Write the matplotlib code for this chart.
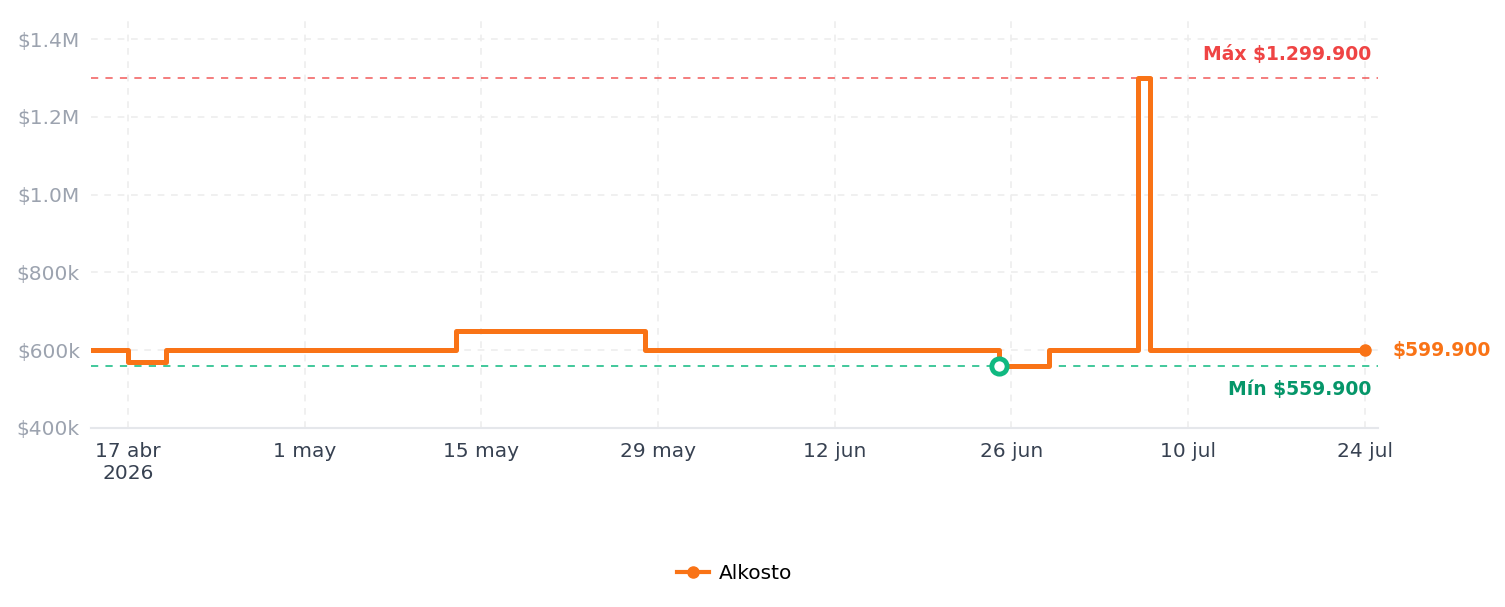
import matplotlib
matplotlib.use("Agg")
import matplotlib.pyplot as plt
from matplotlib.ticker import FuncFormatter
from matplotlib.lines import Line2D
from datetime import datetime

plt.rcParams["font.family"] = ["DejaVu Sans"]

# datos del historial de precios (escalones)
fechas = [
    "2026-04-14", "2026-04-17", "2026-04-20", "2026-05-13", "2026-05-28",
    "2026-06-25", "2026-06-29", "2026-07-06", "2026-07-07", "2026-07-24",
]
precios = [
    599900, 569900, 599900, 649900, 599900,
    559900, 599900, 1299900, 599900, 599900,
]
tienda = "Alkosto"
ticks_fechas = ["2026-04-17", "2026-05-01", "2026-05-15", "2026-05-29",
                "2026-06-12", "2026-06-26", "2026-07-10", "2026-07-24"]
ticks_etiquetas = ["17 abr\n2026", "1 may", "15 may", "29 may",
                   "12 jun", "26 jun", "10 jul", "24 jul"]
ticks_precios = [400000, 600000, 800000, 1000000, 1200000, 1400000]

fechas_dt = [datetime.strptime(f, "%Y-%m-%d") for f in fechas]
precio_max = max(precios)
precio_min = min(precios)
fecha_min = fechas_dt[precios.index(precio_min)]


def formato_precio(v, pos=None):
    if v >= 1000000:
        return f"${v / 1000000:.1f}M"
    return f"${v / 1000:.0f}k"


def miles(v):
    return "$" + f"{v:,.0f}".replace(",", ".")


NARANJA = "#f97316"
VERDE = "#10b981"
ROJO = "#ef4444"

fig = plt.figure(figsize=(15.05, 6.07), dpi=100)
ax = fig.add_axes([0.0605, 0.2949, 0.8551, 0.6804])

ax.step(fechas_dt, precios, where="post", color=NARANJA, linewidth=3.6,
        solid_joinstyle="round", solid_capstyle="round", zorder=4)

# punto final y etiqueta del precio actual
ax.plot(fechas_dt[-1], precios[-1], "o", color=NARANJA, markersize=8, zorder=5)
ax.annotate(miles(precios[-1]), (fechas_dt[-1], precios[-1]),
            xytext=(20, 0), textcoords="offset points", va="center",
            ha="left", color=NARANJA, fontsize=13.5, fontweight="bold",
            annotation_clip=False)

# líneas de máximo y mínimo
ax.axhline(precio_max, color=ROJO, alpha=0.75, linestyle=(0, (4, 4)),
           linewidth=1.3, zorder=2)
ax.axhline(precio_min, color=VERDE, alpha=0.85, linestyle=(0, (4, 4)),
           linewidth=1.3, zorder=2)
ax.annotate("Máx " + miles(precio_max), (0.9945, precio_max),
            xycoords=ax.get_yaxis_transform(), xytext=(0, 10),
            textcoords="offset points", ha="right", va="bottom",
            color=ROJO, fontsize=13.5, fontweight="bold")
ax.annotate("Mín " + miles(precio_min), (0.9945, precio_min),
            xycoords=ax.get_yaxis_transform(), xytext=(0, -10.5),
            textcoords="offset points", ha="right", va="top",
            color="#059669", fontsize=13.5, fontweight="bold")

# marcador del mínimo
ax.plot(fecha_min, precio_min, "o", markersize=11, markerfacecolor="white",
        markeredgecolor=VERDE, markeredgewidth=3.5, zorder=6)

ax.set_xlim(datetime(2026, 4, 14, 2), datetime(2026, 7, 25, 1))
ax.set_ylim(400000, 1462000)
ax.set_yticks(ticks_precios)
ax.yaxis.set_major_formatter(FuncFormatter(formato_precio))
ax.set_xticks([datetime.strptime(f, "%Y-%m-%d") for f in ticks_fechas])
ax.set_xticklabels(ticks_etiquetas)

ax.tick_params(axis="y", length=0, pad=8, labelsize=14.5, labelcolor="#9ca3af")
ax.tick_params(axis="x", length=0, pad=10, labelsize=14.5, labelcolor="#374151")
for lbl in ax.get_xticklabels():
    lbl.set_linespacing(1.2)

ax.grid(True, color="#ededed", linestyle=(0, (4, 4)), linewidth=1.2)
ax.set_axisbelow(True)
for lado in ["top", "right", "left"]:
    ax.spines[lado].set_visible(False)
ax.spines["bottom"].set_color("#e5e7eb")
ax.spines["bottom"].set_linewidth(1.5)

leyenda = [Line2D([0], [0], color=NARANJA, linewidth=3, marker="o",
                  markersize=8, label=tienda)]
ax.legend(handles=leyenda, loc="center", bbox_to_anchor=(0.5, -0.352),
          frameon=False, fontsize=14.5, handlelength=1.6, handletextpad=0.5)

fig.savefig("out.png", dpi=100)
